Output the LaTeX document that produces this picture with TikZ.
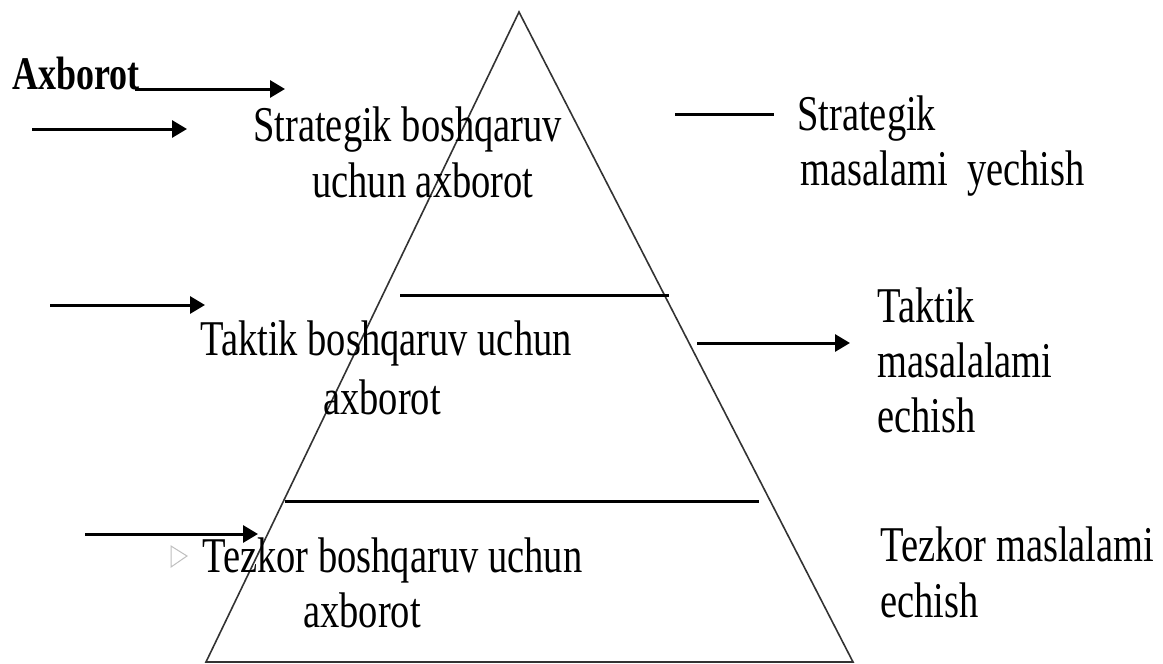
\documentclass[tikz,border=0pt]{standalone}
\usepackage{fontspec}
\setmainfont{Liberation Serif}
\usepackage{graphicx}
\usetikzlibrary{arrows.meta}
\newcommand{\tx}[1]{\scalebox{1}[1.3]{#1}}
\begin{document}
\begin{tikzpicture}[x=1pt,y=-1pt,
  lbl/.style={anchor=base west, inner sep=0pt, font=\fontsize{38.5}{46}\selectfont},
  arr/.style={line width=3pt, -{Triangle[length=15pt,width=17pt]}},
  bar/.style={line width=3pt},
  edgeline/.style={line width=1.6pt, black!80}]
\useasboundingbox (0,0) rectangle (1163,664);
% pyramid
\coordinate (apex) at (519,12);
\coordinate (bl) at (206,662);
\coordinate (br) at (853,662);
\draw[edgeline] (bl) -- (apex) -- (br) -- cycle;
% dividing lines
\coordinate (m1) at (400,295);
\coordinate (m2) at (669,295);
\draw[bar] (m1) -- (m2);
\coordinate (l1) at (285,501);
\coordinate (l2) at (759,501);
\draw[bar] (l1) -- (l2);
% texts
\node[lbl, font=\fontsize{36}{40}\selectfont\bfseries] (ax) at (12,89) {\tx{Axborot}};
\node[lbl] (s1) at (253,141) {\tx{Strategik boshqaruv}};
\node[lbl] (s2) at (312,197) {\tx{uchun axborot}};
\node[lbl] (t1) at (200,355) {\tx{Taktik boshqaruv uchun}};
\node[lbl] (t2) at (323,414) {\tx{axborot}};
\node[lbl] (z1) at (202,572) {\tx{Tezkor boshqaruv uchun}};
\node[lbl] (z2) at (303,627) {\tx{axborot}};
\node[lbl] (rs1) at (797,130) {\tx{Strategik}};
\node[lbl] (rs2) at (800,185) {\tx{masalami\ \ yechish}};
\node[lbl] (rt1) at (877,322) {\tx{Taktik}};
\node[lbl] (rt2) at (877,377) {\tx{masalalami}};
\node[lbl] (rt3) at (877,432) {\tx{echish}};
\node[lbl] (rz1) at (880,561) {\tx{Tezkor\ maslalami}};
\node[lbl] (rz2) at (880,617) {\tx{echish}};
% arrows
\coordinate (a1s) at (135,89);  \coordinate (a1e) at (285,89);
\coordinate (a2s) at (32,129);  \coordinate (a2e) at (187,129);
\coordinate (a3s) at (50,305);  \coordinate (a3e) at (205,305);
\coordinate (a4s) at (85,534);  \coordinate (a4e) at (258,534);
\coordinate (a5s) at (697,343); \coordinate (a5e) at (850,343);
\draw[arr] (a1s) -- (a1e);
\draw[arr] (a2s) -- (a2e);
\draw[arr] (a3s) -- (a3e);
\draw[arr] (a4s) -- (a4e);
\draw[arr] (a5s) -- (a5e);
\coordinate (r1s) at (675,114); \coordinate (r1e) at (774,114);
\draw[bar] (r1s) -- (r1e);
% faint marker
\coordinate (g1) at (171,546); \coordinate (g2) at (187,556); \coordinate (g3) at (171,567);
\draw[black!25, line width=1pt] (g1) -- (g2) -- (g3) -- cycle;
\end{tikzpicture}
\end{document}
